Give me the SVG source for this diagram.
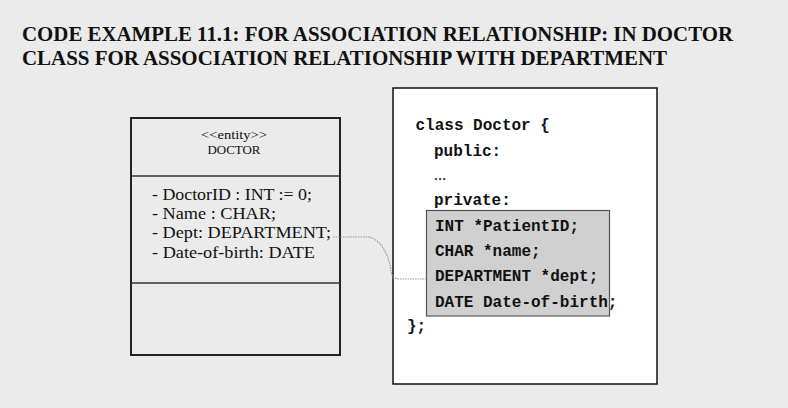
<svg xmlns="http://www.w3.org/2000/svg" width="788" height="408" viewBox="0 0 788 408">
<style>
.title{font-family:"Liberation Serif",serif;font-weight:bold;font-size:21.5px;fill:#111}
.serif{font-family:"Liberation Serif",serif;fill:#111}
.attr{font-size:17px}
.code{font-family:"Liberation Mono",monospace;font-weight:bold;font-size:16px;fill:#111}
.frame{fill:#ebebeb;stroke:#222;stroke-width:2}
.sep{stroke:#333;stroke-width:1.5}
.conn{fill:none;stroke:#9a9a9a;stroke-width:1.2;stroke-dasharray:1.5 1}
</style>
<rect x="0" y="0" width="788" height="408" fill="#ebebeb"/>
<g id="title">
<text class="title" x="22" y="41" textLength="711" lengthAdjust="spacingAndGlyphs">CODE EXAMPLE 11.1: FOR ASSOCIATION RELATIONSHIP: IN DOCTOR</text>
<text class="title" x="22" y="65" textLength="645" lengthAdjust="spacingAndGlyphs">CLASS FOR ASSOCIATION RELATIONSHIP WITH DEPARTMENT</text>
</g>
<g id="doctor-class">
<rect class="frame" x="131" y="118" width="209" height="237"/>
<line class="sep" x1="131" y1="176" x2="340" y2="176"/>
<line class="sep" x1="131" y1="283" x2="340" y2="283"/>
<text class="serif" x="234" y="139" font-size="13.5" text-anchor="middle" textLength="66" lengthAdjust="spacingAndGlyphs">&lt;&lt;entity&gt;&gt;</text>
<text class="serif" x="234" y="154" font-size="12.5" text-anchor="middle" textLength="53" lengthAdjust="spacingAndGlyphs">DOCTOR</text>
<text class="serif attr" x="152" y="200" textLength="160" lengthAdjust="spacingAndGlyphs">- DoctorID : INT := 0;</text>
<text class="serif attr" x="152" y="219" textLength="124" lengthAdjust="spacingAndGlyphs">- Name : CHAR;</text>
<text class="serif attr" x="152" y="238" textLength="179" lengthAdjust="spacingAndGlyphs">- Dept: DEPARTMENT;</text>
<text class="serif attr" x="152" y="258" textLength="163" lengthAdjust="spacingAndGlyphs">- Date-of-birth: DATE</text>
</g>
<g id="code-block">
<rect x="393" y="88" width="264" height="296" fill="#ffffff" stroke="#111" stroke-width="1.5"/>
<rect x="426.5" y="210.5" width="183" height="105.5" fill="#d0d0d0" stroke="#555" stroke-width="1.2"/>
<text class="code" x="415.5" y="129.5">class Doctor {</text>
<text class="code" x="434" y="156">public:</text>
<text class="serif" x="434" y="180" font-size="12" font-weight="bold" fill="#222">…</text>
<text class="code" x="434" y="205">private:</text>
<text class="code" x="435" y="231">INT *PatientID;</text>
<text class="code" x="435" y="256">CHAR *name;</text>
<text class="code" x="435" y="281">DEPARTMENT *dept;</text>
<text class="code" x="435" y="306.5">DATE Date-of-birth;</text>
<text class="code" x="407" y="331">};</text>
</g>
<g id="connectors">
<path class="conn" d="M333,237 L369,237 C380,239 389,254 391,271 C392,278 395,279 401,279 L426,279"/>
</g>
</svg>
